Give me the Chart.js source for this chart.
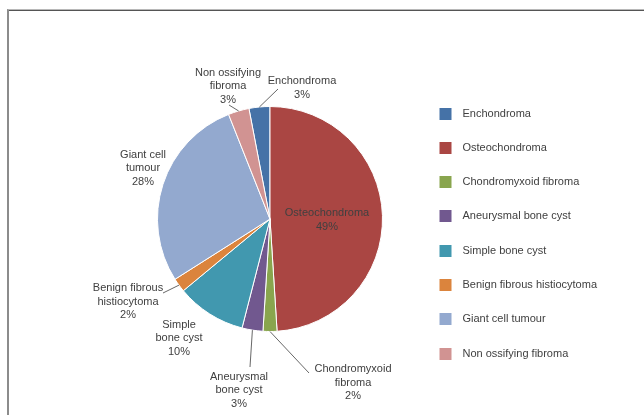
<!DOCTYPE html>
<html>
<head>
<meta charset="utf-8">
<script src="https://cdn.jsdelivr.net/npm/chart.js@4.4.1/dist/chart.umd.min.js"></script>
<style>
    html, body { margin: 0; padding: 0; background: #fff; overflow: hidden; }
    #wrap { position: relative; width: 644px; height: 415px; }
    #frame {
        position: absolute; left: 7px; top: 9px; width: 700px; height: 500px;
        border-top: 1px solid #b8b8b8; border-left: 2px solid #8c8c8c;
        box-shadow: inset 0 1px 0 #555;
        pointer-events: none;
    }
</style>
</head>
<body>
<div id="wrap">
    <canvas id="tumourChart" width="644" height="415"></canvas>
    <div id="frame"></div>
</div>
<script>
// Tumour types and their share of cases (%)
const categories = [
    'Enchondroma',
    'Osteochondroma',
    'Chondromyxoid fibroma',
    'Aneurysmal bone cyst',
    'Simple bone cyst',
    'Benign fibrous histiocytoma',
    'Giant cell tumour',
    'Non ossifying fibroma'
];
const values = [3, 49, 2, 3, 10, 2, 28, 3];

// Wrapped text for the slice labels
const wrapped = [
    'Enchondroma',
    'Osteochondroma',
    'Chondromyxoid\nfibroma',
    'Aneurysmal\nbone cyst',
    'Simple\nbone cyst',
    'Benign fibrous\nhistiocytoma',
    'Giant cell\ntumour',
    'Non ossifying\nfibroma'
];

const colors = ['#4572A7', '#AA4643', '#89A54E', '#71588F', '#4198AF', '#DB843D', '#93A9CF', '#D19392'];

// label centre and leader line end, relative to the pie centre
const placement = [
    { text: [32, -131], line: [8, -130] },
    { text: [57, 1], line: null },
    { text: [83, 163.5], line: [39, 154] },
    { text: [-31, 171], line: [-20, 148] },
    { text: [-91, 119], line: null },
    { text: [-142, 82.5], line: [-107, 74] },
    { text: [-127, -51], line: null },
    { text: [-42, -133], line: [-41, -114] }
];

const FONT = '11px "Liberation Sans", Arial, sans-serif';
const TEXT = '#404040';

const sliceLabels = {
    id: 'sliceLabels',
    afterDatasetsDraw(chart) {
        const ctx = chart.ctx;
        const meta = chart.getDatasetMeta(0);
        const total = values.reduce((a, b) => a + b, 0);
        ctx.save();
        ctx.font = FONT;
        ctx.fillStyle = TEXT;
        ctx.strokeStyle = TEXT;
        ctx.lineWidth = 0.8;
        ctx.textAlign = 'center';
        ctx.textBaseline = 'middle';
        meta.data.forEach((arc, i) => {
            const { x, y, outerRadius, startAngle, endAngle } =
                arc.getProps(['x', 'y', 'outerRadius', 'startAngle', 'endAngle'], true);
            const p = placement[i];
            const lines = wrapped[i].split('\n').concat(Math.round(values[i] / total * 100) + '%');
            const cx = x + p.text[0];
            const cy = y + p.text[1];
            const lh = 13.5;
            lines.forEach((t, k) => ctx.fillText(t, cx, cy + (k - (lines.length - 1) / 2) * lh));
            if (p.line) {
                const mid = (startAngle + endAngle) / 2;
                ctx.beginPath();
                ctx.moveTo(x + Math.cos(mid) * outerRadius, y + Math.sin(mid) * outerRadius);
                ctx.lineTo(x + p.line[0], y + p.line[1]);
                ctx.stroke();
            }
        });
        ctx.restore();
    }
};

// Legend on the right: square swatch + name
const sideLegend = {
    id: 'sideLegend',
    afterDraw(chart) {
        const ctx = chart.ctx;
        const fills = chart.data.datasets[0].backgroundColor;
        ctx.save();
        ctx.font = FONT;
        ctx.textAlign = 'left';
        ctx.textBaseline = 'middle';
        chart.data.labels.forEach((name, i) => {
            const y = 113 + i * 34.3;
            ctx.fillStyle = fills[i];
            ctx.fillRect(439.5, Math.round(y - 5.5), 12, 12);
            ctx.fillStyle = TEXT;
            ctx.fillText(name, 462.5, y + 0.5);
        });
        ctx.restore();
    }
};

const total = values.reduce((a, b) => a + b, 0);

new Chart(document.getElementById('tumourChart'), {
    type: 'pie',
    data: {
        labels: categories,
        datasets: [{
            data: values,
            backgroundColor: colors,
            borderColor: '#ffffff',
            borderWidth: 1
        }]
    },
    options: {
        responsive: false,
        animation: false,
        // first slice ends at 12 o'clock, the rest run clockwise after it
        rotation: -values[0] / total * 360,
        layout: { padding: { left: 157, top: 106, right: 261, bottom: 83 } },
        plugins: {
            legend: { display: false },
            tooltip: { enabled: false }
        }
    },
    plugins: [sliceLabels, sideLegend]
});
</script>
</body>
</html>
